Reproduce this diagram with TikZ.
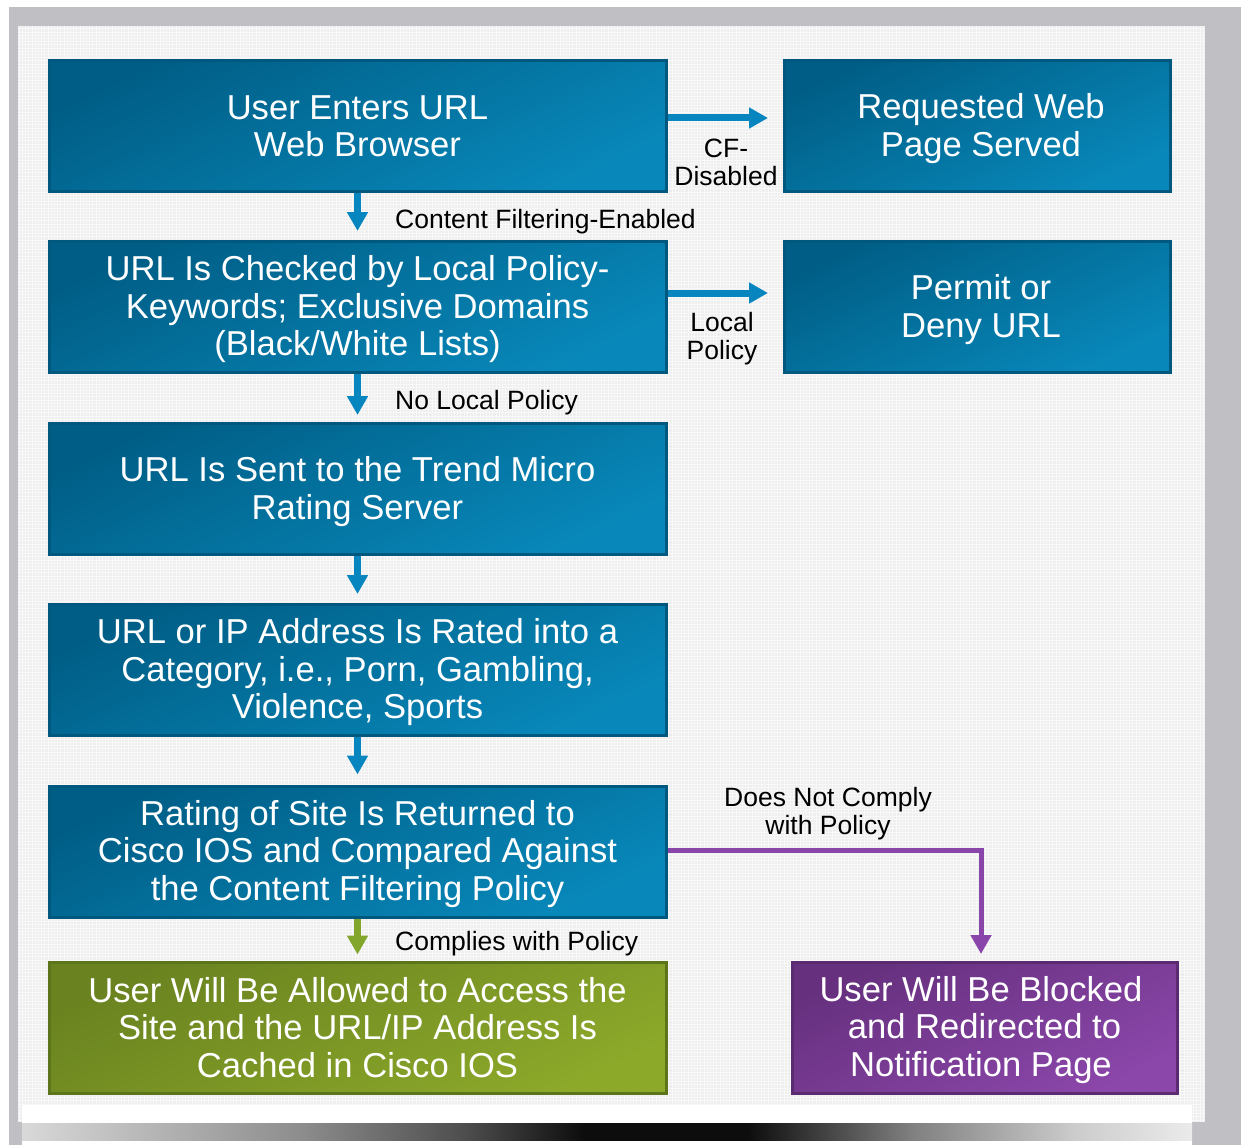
\documentclass[tikz,border=0pt]{standalone}
\usepackage{fontspec}
\setmainfont{Liberation Sans}
\usetikzlibrary{arrows.meta}
\definecolor{frameg}{HTML}{C0BFC4}
\definecolor{panelg}{HTML}{EEEEEE}
\definecolor{gridg}{HTML}{F8F8F8}
\definecolor{bdark}{HTML}{005E86}
\definecolor{blight}{HTML}{0888BA}
\definecolor{bbord}{HTML}{00587E}
\definecolor{barrow}{HTML}{0785BE}
\definecolor{gdark}{HTML}{6A8320}
\definecolor{glight}{HTML}{8DA92A}
\definecolor{gbord}{HTML}{5D751A}
\definecolor{garrow}{HTML}{82A52B}
\definecolor{pdark}{HTML}{66307E}
\definecolor{plight}{HTML}{8B47AA}
\definecolor{pbord}{HTML}{5A2B70}
\definecolor{parrow}{HTML}{8A45AB}
\newcommand\topstrt{\rule{0pt}{30pt}}
\newcommand\botstrt{\rule[-6pt]{0pt}{6pt}}
\pgfdeclarehorizontalshading{bottomshadow}{100bp}{color(0bp)=(black!15); color(25bp)=(black!15); color(37bp)=(black!45); color(44bp)=(black!70); color(49bp)=(black!95); color(56bp)=(black!95); color(63bp)=(black!50); color(70bp)=(black!20); color(75bp)=(black!8); color(100bp)=(black!8)}
\tikzset{
  box/.style={rectangle, inner sep=0pt, line width=3pt, minimum height=131pt, text=white, align=center,
    font=\fontsize{34.6}{37.5}\selectfont},
  bluebox/.style={box, draw=bbord, top color=bdark, bottom color=blight, shading angle=25},
  greenbox/.style={box, draw=gbord, top color=gdark, bottom color=glight, shading angle=25},
  purplebox/.style={box, draw=pbord, top color=pdark, bottom color=plight, shading angle=25},
  lbl/.style={font=\fontsize{26.5}{28}\selectfont, text=black, align=center, inner sep=0pt},
  conn/.style={line width=7pt, -{Triangle[width=20pt,length=19pt]}},
}
\begin{document}
\begin{tikzpicture}[x=1pt,y=-1pt]
\useasboundingbox (0,0) rectangle (1241,1145);
\fill[white] (0,0) rectangle (1241,1145);
\fill[frameg] (9,7) rectangle (1241,1145);
\fill[panelg] (18,26) rectangle (1205,1122);
\begin{scope}
\clip (18,26) rectangle (1205,1122);
\draw[gridg, line width=0.9pt, step=3.2pt] (18,26) grid (1205,1122);
\end{scope}
\fill[white] (22,1105) rectangle (1192,1145);
\shade[shading=bottomshadow] (22,1123) rectangle (1192,1140);

% boxes
\node[bluebox, minimum width=617pt] (b1) at (357.5,126) {\topstrt User Enters URL\\Web Browser\botstrt};
\node[bluebox, minimum width=386pt] (r1) at (977,126) {\topstrt\hspace*{8pt}Requested Web\\\hspace*{8pt}Page Served\botstrt};
\node[bluebox, minimum width=617pt] (b2) at (357.5,307) {\topstrt URL Is Checked by Local Policy-\\Keywords; Exclusive Domains\\(Black/White Lists)\botstrt};
\node[bluebox, minimum width=386pt] (r2) at (977,307) {\topstrt\hspace*{8pt}Permit or\\\hspace*{8pt}Deny URL\botstrt};
\node[bluebox, minimum width=617pt] (b3) at (357.5,489) {\topstrt URL Is Sent to the Trend Micro\\Rating Server\botstrt};
\node[bluebox, minimum width=617pt] (b4) at (357.5,670) {\topstrt URL or IP Address Is Rated into a\\Category, i.e., Porn, Gambling,\\Violence, Sports\botstrt};
\node[bluebox, minimum width=617pt] (b5) at (357.5,851.5) {\topstrt Rating of Site Is Returned to\\Cisco IOS and Compared Against\\the Content Filtering Policy\botstrt};
\node[greenbox, minimum width=617pt] (b6) at (357.5,1027.5) {\topstrt User Will Be Allowed to Access the\\Site and the URL/IP Address Is\\Cached in Cisco IOS\botstrt};
\node[purplebox, minimum width=385pt] (b7) at (984.5,1027.5) {\topstrt User Will Be Blocked\hspace*{7pt}\\and Redirected to\hspace*{7pt}\\Notification Page\hspace*{7pt}\botstrt};

% coordinates for arrow tips
\coordinate (t1) at (768,118);
\coordinate (t2) at (768,293);
\coordinate (t7) at (981,954);

% connectors
\draw[conn, barrow] (b1.east |- t1) -- (t1);
\draw[conn, barrow] (b2.east |- t2) -- (t2);
\draw[conn, barrow] (b1.south) -- ([yshift=9pt]b2.north);
\draw[conn, barrow] (b2.south) -- ([yshift=7pt]b3.north);
\draw[conn, barrow] (b3.south) -- ([yshift=9pt]b4.north);
\draw[conn, barrow] (b4.south) -- ([yshift=10pt]b5.north);
\draw[conn, garrow] (b5.south) -- ([yshift=6pt]b6.north);
\draw[conn, parrow, line width=5pt] (b5.east |- 0,850) -| (t7);

% labels
\node[lbl, anchor=base west] (l1) at (395,228) {Content Filtering-Enabled};
\node[lbl] (l2) at (726,162) {CF-\\Disabled};
\node[lbl] (l3) at (722,339) {Local\\Policy};
\node[lbl, anchor=base west] (l4) at (395,409) {No Local Policy};
\node[lbl, anchor=base west] (l5) at (395,950) {Complies with Policy};
\node[lbl] (l6) at (828,814) {Does Not Comply\\with Policy};
\end{tikzpicture}
\end{document}
